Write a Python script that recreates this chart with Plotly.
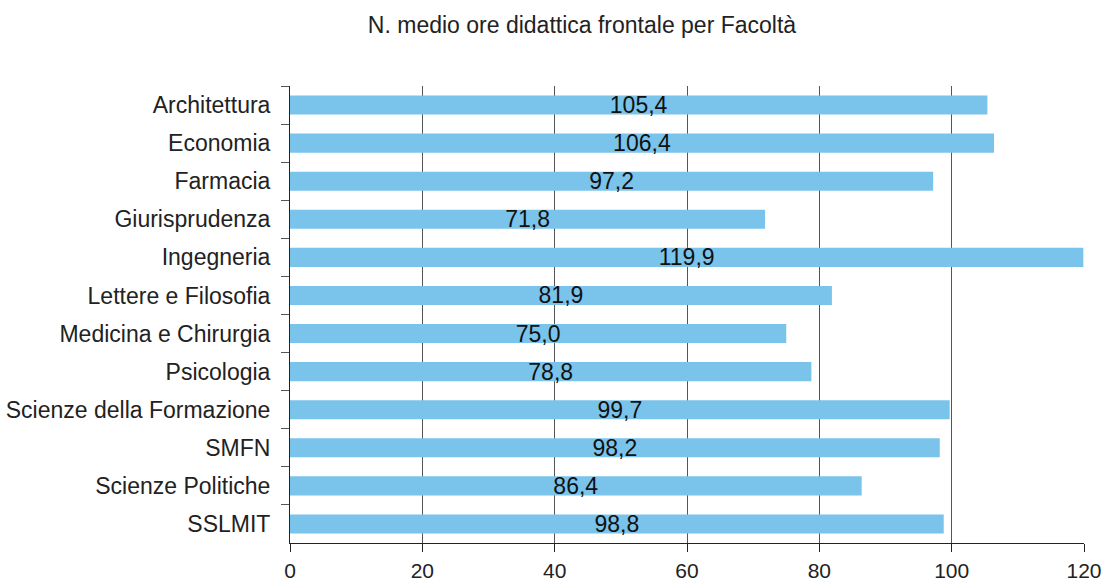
import plotly.graph_objects as go

categories = ["Architettura", "Economia", "Farmacia", "Giurisprudenza", "Ingegneria",
              "Lettere e Filosofia", "Medicina e Chirurgia", "Psicologia",
              "Scienze della Formazione", "SMFN", "Scienze Politiche", "SSLMIT"]
values = [105.4, 106.4, 97.2, 71.8, 119.9, 81.9, 75.0, 78.8, 99.7, 98.2, 86.4, 98.8]
x_ticks = [0, 20, 40, 60, 80, 100, 120]

labels = [f"{v:.1f}".replace(".", ",") for v in values]
FONT = "Liberation Sans, Arial, sans-serif"

fig = go.Figure(go.Bar(
    y=categories, x=values, orientation="h",
    marker=dict(color="#7AC3EB", line=dict(width=0)),
    text=labels, textposition="inside", insidetextanchor="middle",
    textfont=dict(family=FONT, size=23, color="#111111"),
    cliponaxis=False,
))

fig.update_layout(
    width=1104, height=585,
    paper_bgcolor="white", plot_bgcolor="white",
    margin=dict(l=290, r=20, t=86, b=42),
    bargap=0.5,
    showlegend=False,
    uniformtext=dict(minsize=23, mode="show"),
    title=dict(text="N. medio ore didattica frontale per Facoltà",
               x=582/1104, xref="container", xanchor="center",
               y=1-25/585, yref="container", yanchor="middle",
               font=dict(family=FONT, size=23, color="#222222"),
               automargin=False),
    font=dict(family=FONT, color="#222222"),
)
fig.update_xaxes(
    range=[0, 120], tickvals=x_ticks, ticktext=[str(t) for t in x_ticks],
    showgrid=True, gridcolor="#555555", gridwidth=1,
    showline=True, linecolor="#222222", linewidth=1,
    ticks="outside", ticklen=8, tickcolor="#222222",
    tickfont=dict(size=21, color="#222222"), zeroline=False,
    automargin=False, ticklabelstandoff=1,
)
fig.update_yaxes(
    categoryorder="array", categoryarray=categories, autorange="reversed",
    showline=True, linecolor="#222222", linewidth=1,
    ticks="outside", ticklen=8, tickcolor="#555555", tickson="boundaries",
    tickfont=dict(size=23, color="#222222"), showgrid=False,
    automargin=False, ticklabelstandoff=14,
)

fig.write_html("out.html",
               config={"displayModeBar": False},
               post_script="document.body.style.margin='0';document.body.style.overflow='hidden';")
